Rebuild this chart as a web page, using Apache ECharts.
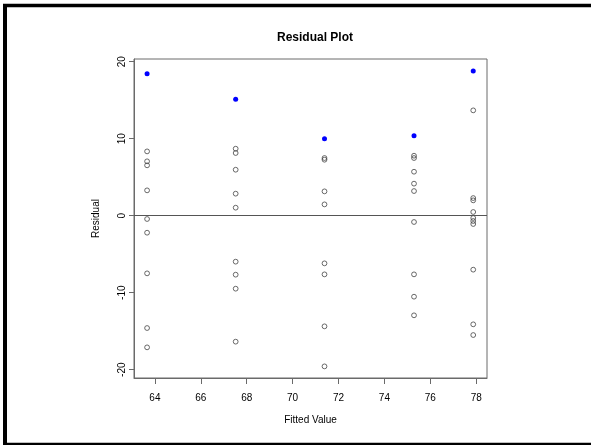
<!DOCTYPE html>
<html>
<head>
<meta charset="utf-8">
<script src="https://cdn.jsdelivr.net/npm/echarts@6/dist/echarts.min.js"></script>
<style>
html,body{margin:0;padding:0;background:#fff;overflow:hidden;}
#c{width:591px;height:445px;}
</style>
</head>
<body>
<div id="c"></div>
<script>
// Fitted values (one per group)
const fittedValues = [63.66, 67.52, 71.39, 75.29, 77.87];
// Residuals per group (open circles)
const residG1 = [8.35, 7.06, 6.54, 3.29, -0.43, -2.21, -7.49, -14.59, -17.10];
const residG2 = [8.70, 8.14, 5.97, 2.86, 1.04, -5.97, -7.66, -9.48, -16.36];
const residG3 = [7.49, 7.27, 3.16, 1.47, -6.19, -7.62, -14.37, -19.57];
const residG4 = [7.79, 7.49, 5.71, 4.16, 3.20, -0.82, -7.62, -10.52, -12.94];
const residG5 = [13.68, 2.29, 1.99, 0.48, -0.30, -0.69, -1.08, -7.01, -14.11, -15.50];
// Highlighted (blue) residuals, one per group
const highlightResid = [18.44, 15.11, 10.00, 10.39, 18.79];
// Tick labels
const xTicks = [64, 66, 68, 70, 72, 74, 76, 78];
const yTicks = [-20, -10, 0, 10, 20];

const groups = [residG1, residG2, residG3, residG4, residG5];
const openPts = [];
groups.forEach((g, i) => g.forEach(r => openPts.push([fittedValues[i], r])));
const bluePts = highlightResid.map((r, i) => [fittedValues[i], r]);

const font = '"Liberation Sans", Arial, sans-serif';
const chart = echarts.init(document.getElementById('c'), null, {renderer: 'canvas'});
chart.setOption({
  animation: false,
  backgroundColor: '#fff',
  title: {
    text: 'Residual Plot',
    left: 310, top: 27, textAlign: 'center',
    textStyle: {fontFamily: font, fontSize: 12, fontWeight: 'bold', color: '#000'}
  },
  grid: {left: 134, top: 59, width: 353, height: 319, show: true, borderColor: '#6a6a6a', borderWidth: 1, backgroundColor: 'transparent'},
  xAxis: {
    type: 'value', min: 63.09, max: 78.47,
    name: 'Fitted Value', nameLocation: 'middle', nameGap: 37,
    nameTextStyle: {fontFamily: font, fontSize: 10, color: '#000'},
    splitLine: {show: false},
    axisLine: {show: true, onZero: false, lineStyle: {color: '#6a6a6a', width: 1}},
    axisTick: {show: true, length: 6, customValues: xTicks, lineStyle: {color: '#6a6a6a'}},
    axisLabel: {customValues: xTicks, margin: 15, fontFamily: font, fontSize: 10, color: '#000'}
  },
  yAxis: {
    type: 'value', min: -21.08, max: 20.35,
    name: 'Residual', nameLocation: 'middle', nameGap: 33, nameRotate: 90,
    nameTextStyle: {fontFamily: font, fontSize: 10, color: '#000'},
    splitLine: {show: false},
    axisLine: {show: true, onZero: false, lineStyle: {color: '#6a6a6a', width: 1}},
    axisTick: {show: true, length: 5, customValues: yTicks, lineStyle: {color: '#6a6a6a'}},
    axisLabel: {customValues: yTicks, rotate: 90, margin: 7, fontFamily: font, fontSize: 10, color: '#000'}
  },
  graphic: [
    {type: 'line', silent: true, z: 100, shape: {x1: 3, y1: 5.5, x2: 591, y2: 5.5}, style: {stroke: '#000', lineWidth: 3.5}},
    {type: 'line', silent: true, z: 100, shape: {x1: 5, y1: 4, x2: 5, y2: 445}, style: {stroke: '#000', lineWidth: 4}},
    {type: 'line', silent: true, z: 100, shape: {x1: 3, y1: 444, x2: 591, y2: 444}, style: {stroke: '#000', lineWidth: 2.5}}
  ],
  series: [
    {
      type: 'scatter', data: openPts, symbol: 'circle', symbolSize: 4.8,
      itemStyle: {color: 'rgba(0,0,0,0)', borderColor: '#444', borderWidth: 0.8, opacity: 1},
      markLine: {
        silent: true, symbol: 'none', label: {show: false},
        lineStyle: {color: '#555', width: 1, type: 'solid'},
        data: [{yAxis: 0}]
      }
    },
    {
      type: 'scatter', data: bluePts, symbol: 'circle', symbolSize: 5,
      itemStyle: {color: '#0000ff', opacity: 1}
    }
  ]
});
</script>
</body>
</html>
